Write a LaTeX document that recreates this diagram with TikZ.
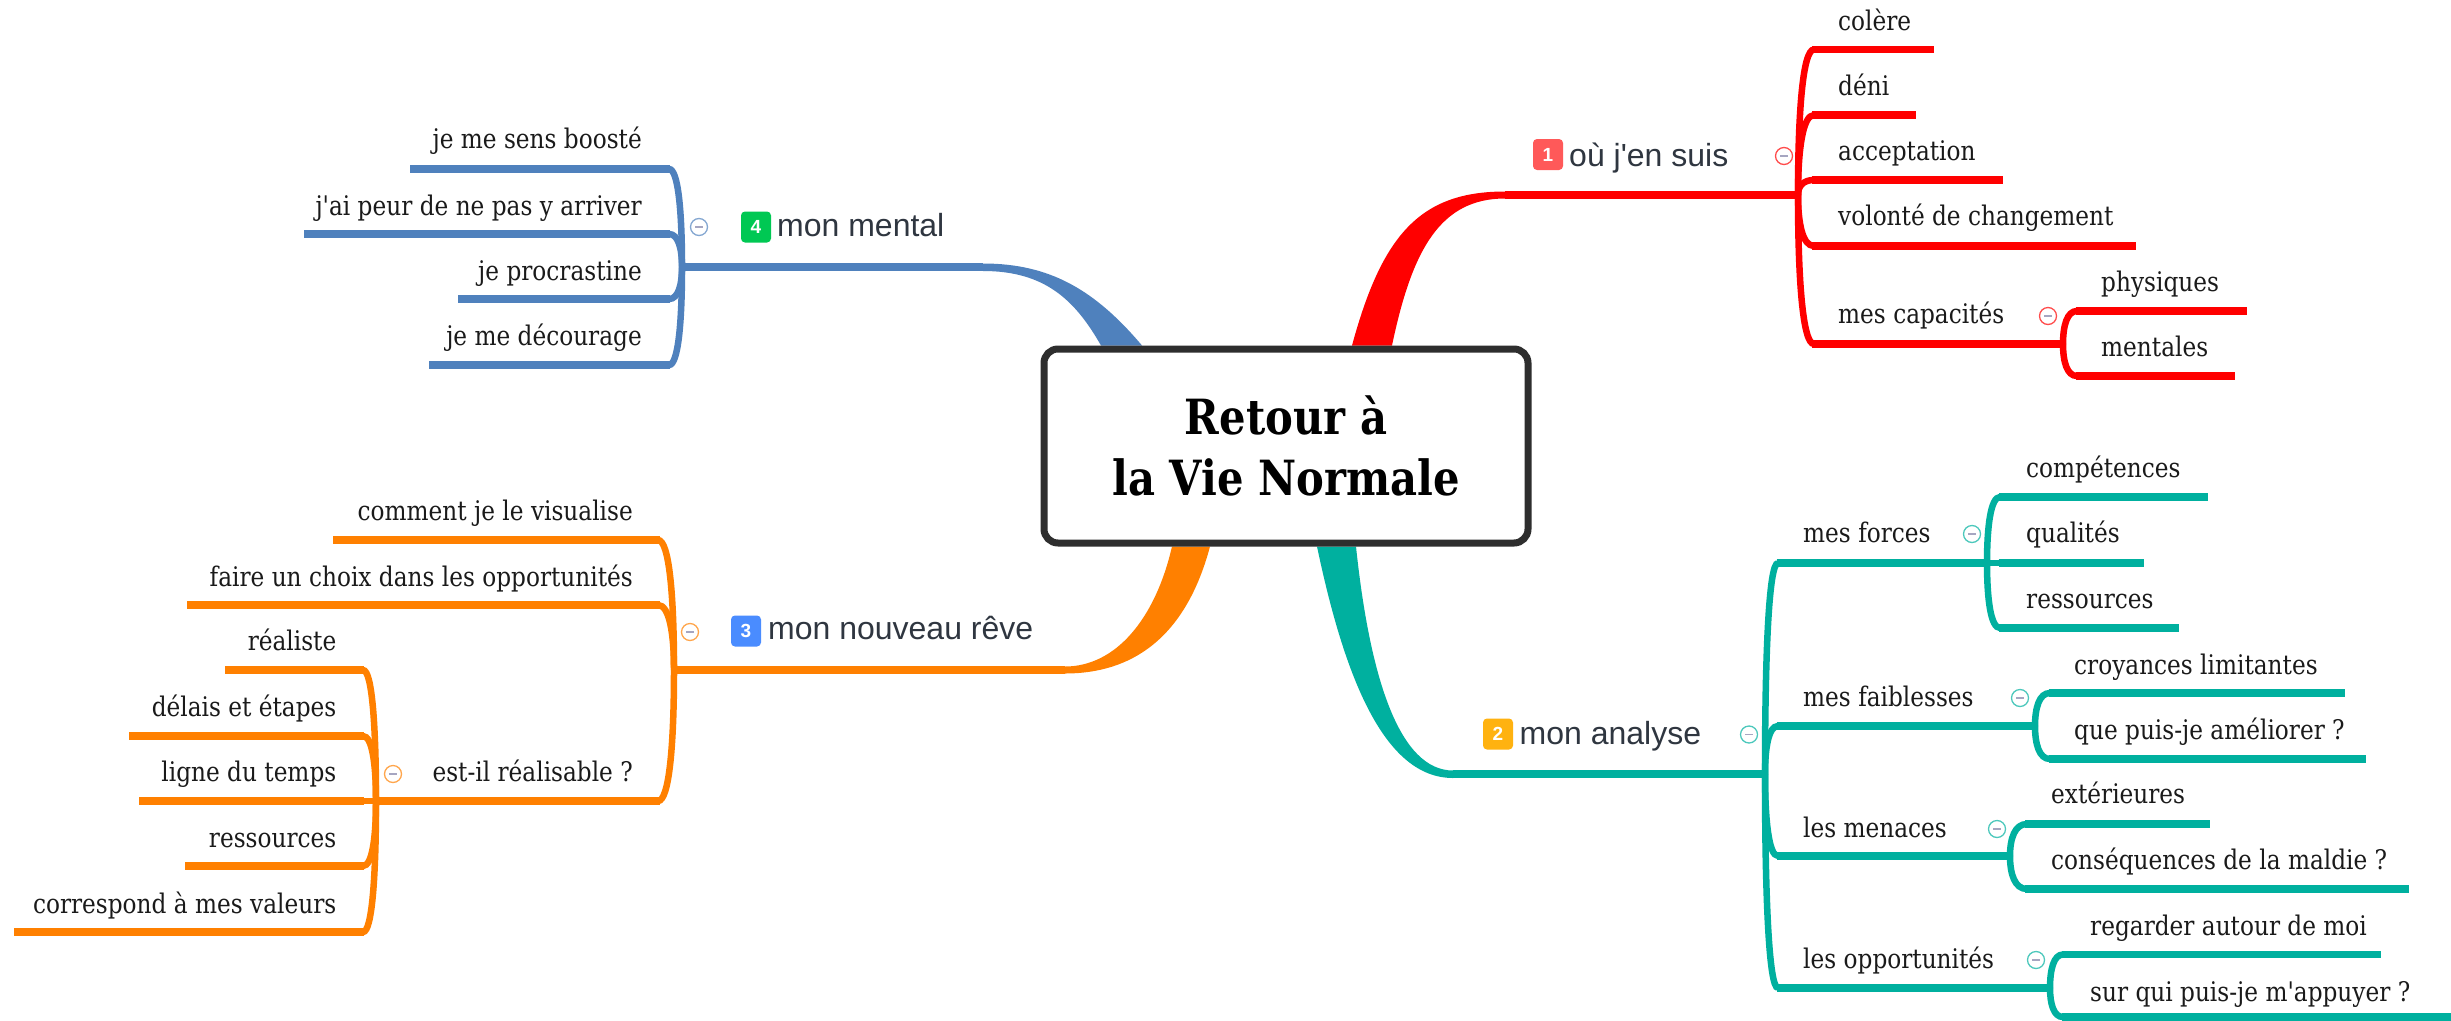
\documentclass[tikz,border=0pt]{standalone}
\usepackage{fontspec}
\usetikzlibrary{calc,backgrounds}
\newfontfamily\slab{DejaVu Serif}[FakeStretch=0.86]
\newfontfamily\bsans{Liberation Sans}
\definecolor{cred}{HTML}{FF0000}
\definecolor{cteal}{HTML}{00B09F}
\definecolor{corange}{HTML}{FF8000}
\definecolor{cblue}{HTML}{4F81BD}
\definecolor{ink}{HTML}{1A1A1A}
\definecolor{topicink}{HTML}{2F3640}
\newcommand{\bc}{cred}
\newcommand{\jx}{0}
% name, junction, start x, line y, end x, anchor, text x, text centre y, text
\newcommand{\kid}[9]{%
  \coordinate (#1-s) at (#3,#4);
  \coordinate (#1-e) at (#5,#4);
  \draw[curve,\bc] (#2) .. controls ($(#2)!0.55!(#2|-#1-s)$) and ($(#1-s)+({-0.72*(#3-\jx)},0)$) .. (#1-s);
  \draw[bar,\bc] ($(#1-s)+({-0.1*(#3-\jx)},0)$) -- (#1-e);
  \node[lab,anchor=base #6] (#1) at (#7,{#8+8}) {#9};
}
\newcommand{\fold}[4]{% name, colour, x, y
  \node[foldc,draw=#2!70!white] (#1) at (#3,#4) {};
  \draw[foldm] ($(#1)+(-4,0)$) -- ($(#1)+(4,0)$);
}
\tikzset{
  curve/.style={line width=6.5pt},
  bar/.style={line width=7.5pt},
  lab/.style={inner sep=0pt,text=ink,font=\slab\fontsize{27}{30}\selectfont},
  foldc/.style={circle,fill=white,line width=1.3pt,minimum size=17pt,inner sep=0pt},
  foldm/.style={line width=1.5pt,color=blue!30!black!35!white},
  topic/.style={inner sep=0pt,text=topicink,anchor=base west,font=\bsans\fontsize{32}{36}\selectfont},
  badge/.style={rounded corners=4pt,minimum width=30pt,minimum height=31pt,inner sep=0pt,text=white,font=\bsans\bfseries\fontsize{19}{20}\selectfont},
  centre/.style={draw=black!82,line width=7pt,fill=white,rounded corners=14pt,minimum width=484pt,minimum height=194pt,align=center,text=black,font=\slab\bfseries\fontsize{48.5}{61}\selectfont}
}
\begin{document}
\begin{tikzpicture}[x=1pt,y=-1pt]
\useasboundingbox (0,0) rectangle (2451,1020);
\node[centre] (C) at (1286,446) {Retour à\\la Vie Normale};
\begin{scope}[on background layer]
\fill[white] (0,0) rectangle (2451,1020);
\fill[cred] (C.north -| 1352,347) .. controls (1382,235) and (1420,191.5) .. (1505,191.5) -- (1505,198.5) .. controls (1440,198.5) and (1412,250) .. (C.north -| 1392,347) -- cycle;
\fill[cteal] (C.south -| 1317,545) .. controls (1345,680) and (1385,778) .. (1453,778) -- (1453,770.5) .. controls (1400,770.5) and (1370,680) .. (C.south -| 1356,545) -- cycle;
\fill[corange] (C.south -| 1210,545) .. controls (1185,640) and (1130,673.5) .. (1065,673.5) -- (1065,666.5) .. controls (1115,666.5) and (1155,620) .. (C.south -| 1172,545) -- cycle;
\fill[cblue] (C.north -| 1142,347) .. controls (1095,290) and (1050,263.5) .. (983,263.5) -- (983,271) .. controls (1045,271) and (1075,300) .. (C.north -| 1101,347) -- cycle;
\end{scope}

% ---------- branch 1
\renewcommand{\bc}{cred}
\coordinate (A0) at (1505,195);
\coordinate (Aj) at (1798,195);
\draw[bar,\bc] (A0) -- (Aj);
\renewcommand{\jx}{1798}
\kid{a1}{Aj}{1814}{49.5}{1934}{west}{1838}{22}{colère}
\kid{a2}{Aj}{1814}{115}{1916}{west}{1838}{87}{déni}
\kid{a3}{Aj}{1814}{180}{2003}{west}{1838}{152}{acceptation}
\kid{a4}{Aj}{1814}{246}{2136}{west}{1838}{217}{volonté de changement}
\kid{a5}{Aj}{1814}{344}{2063}{west}{1838}{315}{mes capacités}
\coordinate (a5j) at (2063,344);
\renewcommand{\jx}{2063}
\kid{a51}{a5j}{2077}{311}{2247}{west}{2101}{283}{physiques}
\kid{a52}{a5j}{2077}{376}{2235}{west}{2101}{348}{mentales}
\fold{fa}{\bc}{1784}{156}
\fold{fa5}{\bc}{2048}{316}
\node[badge,fill=red!65!white] (ba) at (1548,154.5) {1};
\node[topic] (ta) at (1569,166) {où j'en suis};

% ---------- branch 2
\renewcommand{\bc}{cteal}
\coordinate (B0) at (1453,774);
\coordinate (Bj) at (1765,774);
\draw[bar,\bc] (B0) -- (Bj);
\renewcommand{\jx}{1765}
\kid{b1}{Bj}{1778}{563}{1987}{west}{1803}{534.5}{mes forces}
\kid{b2}{Bj}{1778}{726}{2035}{west}{1803}{698}{mes faiblesses}
\kid{b3}{Bj}{1778}{856}{2010}{west}{1803}{829}{les menaces}
\kid{b4}{Bj}{1778}{988}{2050}{west}{1803}{960}{les opportunités}
\coordinate (b1j) at (1987,563);
\renewcommand{\jx}{1987}
\kid{b11}{b1j}{2000}{497}{2208}{west}{2026}{469.5}{compétences}
\kid{b12}{b1j}{2000}{563}{2144}{west}{2026}{534.5}{qualités}
\kid{b13}{b1j}{2000}{628}{2179}{west}{2026}{600}{ressources}
\coordinate (b2j) at (2035,726);
\renewcommand{\jx}{2035}
\kid{b21}{b2j}{2050}{693}{2345}{west}{2074}{666}{croyances limitantes}
\kid{b22}{b2j}{2050}{759}{2366}{west}{2074}{731.5}{que puis-je améliorer ?}
\coordinate (b3j) at (2010,856);
\renewcommand{\jx}{2010}
\kid{b31}{b3j}{2027}{824}{2210}{west}{2051}{795}{extérieures}
\kid{b32}{b3j}{2027}{889}{2409}{west}{2051}{861}{conséquences de la maldie ?}
\coordinate (b4j) at (2050,988);
\renewcommand{\jx}{2050}
\kid{b41}{b4j}{2063}{954.5}{2381}{west}{2090}{927}{regarder autour de moi}
\kid{b42}{b4j}{2063}{1017}{2451}{west}{2090}{993}{sur qui puis-je m'appuyer ?}
\fold{fb}{\bc}{1749}{734.5}
\fold{fb1}{\bc}{1972}{534}
\fold{fb2}{\bc}{2020}{698}
\fold{fb3}{\bc}{1997}{829}
\fold{fb4}{\bc}{2036}{960}
\node[badge,fill={rgb,255:red,255;green,178;blue,16}] (bb) at (1498,734) {2};
\node[topic] (tb) at (1519.5,744.5) {mon analyse};

% ---------- branch 3
\renewcommand{\bc}{corange}
\coordinate (D0) at (1065,670);
\coordinate (Dj) at (674,670);
\draw[bar,\bc] (D0) -- (Dj);
\renewcommand{\jx}{674}
\kid{d1}{Dj}{658}{540}{333}{east}{633}{512}{comment je le visualise}
\kid{d2}{Dj}{658}{605}{187}{east}{633}{578}{faire un choix dans les opportunités}
\kid{d3}{Dj}{658}{801}{376}{east}{633}{773}{est-il réalisable ?}
\coordinate (d3j) at (376,801);
\renewcommand{\jx}{376}
\kid{d31}{d3j}{363}{670}{225}{east}{336.5}{642}{réaliste}
\kid{d32}{d3j}{363}{736}{129}{east}{336.5}{708}{délais et étapes}
\kid{d33}{d3j}{363}{801}{139}{east}{336.5}{773}{ligne du temps}
\kid{d34}{d3j}{363}{866}{185}{east}{336.5}{839}{ressources}
\kid{d35}{d3j}{363}{932}{14}{east}{336.5}{905}{correspond à mes valeurs}
\fold{fd}{\bc}{690}{632}
\fold{fd3}{\bc}{393}{774}
\node[badge,fill={rgb,255:red,74;green,140;blue,255}] (bd) at (746,631) {3};
\node[topic] (td) at (768,639) {mon nouveau rêve};

% ---------- branch 4
\renewcommand{\bc}{cblue}
\coordinate (E0) at (983,267);
\coordinate (Ej) at (682,267);
\draw[bar,\bc] (E0) -- (Ej);
\renewcommand{\jx}{682}
\kid{e1}{Ej}{669}{169}{410}{east}{642}{140}{je me sens boosté}
\kid{e2}{Ej}{669}{234}{304}{east}{642}{207}{j'ai peur de ne pas y arriver}
\kid{e3}{Ej}{669}{299}{458}{east}{642}{272}{je procrastine}
\kid{e4}{Ej}{669}{365}{429}{east}{642}{337}{je me décourage}
\fold{fe}{\bc}{699}{227}
\node[badge,fill={rgb,255:red,0;green,200;blue,83}] (be) at (756,227) {4};
\node[topic] (te) at (777,236) {mon mental};
\end{tikzpicture}
\end{document}
